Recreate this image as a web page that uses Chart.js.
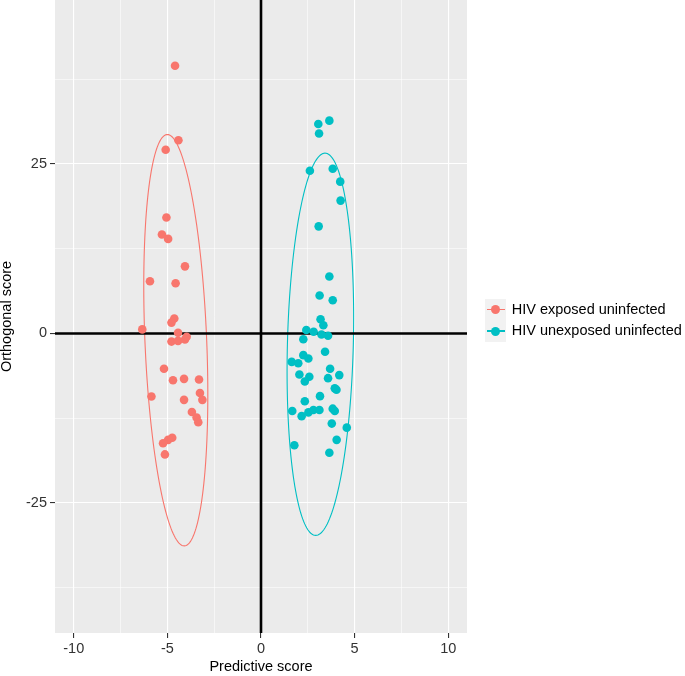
<!DOCTYPE html>
<html>
<head>
<meta charset="utf-8">
<script src="https://cdn.jsdelivr.net/npm/chart.js@4.4.1/dist/chart.umd.min.js"></script>
<style>
  html, body { margin: 0; padding: 0; background: #fff; }
  #wrap { position: relative; width: 685px; height: 676px; font-family: "Liberation Sans", Arial, sans-serif; }
  #chart { position: absolute; left: 0; top: 0; }
  #legend { position: absolute; left: 485px; top: 298.5px; }
  .row { position: relative; height: 21.7px; }
  .key { position: absolute; left: 0; top: 0; width: 21px; height: 21.7px; background: #F2F2F2; }
  .key .ln { position: absolute; left: 2px; top: 10.1px; width: 17.5px; height: 1.5px; }
  .key .dot { position: absolute; left: 6px; top: 6.35px; width: 9px; height: 9px; border-radius: 50%; }
  .lbl { position: absolute; left: 26.7px; top: 0; line-height: 21.7px; font-size: 14.5px; color: #000; white-space: nowrap; }
</style>
</head>
<body>
<div id="wrap">
  <canvas id="chart" width="685" height="676"></canvas>
  <div id="legend"></div>
</div>
<script>
const groupNames = ['HIV exposed uninfected', 'HIV unexposed uninfected'];
const groupColors = ['#F8766D', '#00BFC4'];

const exposedX = [-4.59, -4.41, -5.09, -5.05, -5.29, -4.96, -4.06, -5.93, -4.56, -4.63, -4.78, -6.34, -4.43, -4.78, -4.43, -4.06, -3.97,
  -5.18, -4.70, -4.11, -3.31, -5.85, -3.26, -3.13, -4.11, -3.69, -3.44, -3.35, -4.74, -4.96, -5.23, -5.13];
const exposedY = [39.5, 28.5, 27.1, 17.1, 14.6, 13.95, 9.9, 7.7, 7.4, 2.2, 1.6, 0.6, 0.1, -1.2, -1.1, -0.9, -0.5,
  -5.2, -6.9, -6.7, -6.8, -9.3, -8.8, -9.8, -9.8, -11.6, -12.4, -13.1, -15.4, -15.7, -16.2, -17.85];

const unexposedX = [3.06, 3.65, 3.10, 2.61, 3.83, 4.23, 4.25, 3.08, 3.65, 3.13, 3.83, 3.18, 3.33, 2.42, 2.81, 3.23, 3.58, 2.26,
  3.42, 2.26, 2.53, 1.64, 1.99, 3.69, 2.05, 2.58, 2.34, 3.58, 4.18, 3.94, 4.03, 3.15, 2.34, 1.67, 2.17, 2.53, 2.80, 3.12,
  3.83, 3.94, 3.78, 4.58, 4.04, 1.78, 3.65];
const unexposedY = [30.9, 31.4, 29.5, 24.0, 24.3, 22.4, 19.6, 15.8, 8.4, 5.6, 4.9, 2.1, 1.2, 0.5, 0.25, -0.15, -0.35, -0.85,
  -2.7, -3.2, -3.7, -4.2, -4.4, -5.2, -6.05, -6.4, -7.1, -6.6, -6.15, -8.1, -8.3, -9.25, -10.0, -11.45, -12.2, -11.65, -11.3, -11.3,
  -11.1, -11.45, -13.3, -13.9, -15.7, -16.5, -17.6];

// ellipse per group: centre, semi-axis towards top, semi-axis sideways
const ellipseCenters = [[-4.55, -1.0], [3.17, -1.6]];
const ellipseUpAxes = [[-0.45, 30.35], [0.25, 28.2]];
const ellipseSideAxes = [[1.65, 0], [1.76, 0]];

const xMajorTicks = [-10, -5, 0, 5, 10];
const xMinorTicks = [-7.5, -2.5, 2.5, 7.5];
const yMajorTicks = [-25, 0, 25];
const yMinorTicks = [-37.5, -12.5, 12.5, 37.5];

const FONT = '"Liberation Sans", Arial, sans-serif';

function toPoints(xs, ys) {
  return xs.map((x, i) => ({ x: x, y: ys[i] }));
}

const panelPlugin = {
  id: 'panel',
  beforeDraw(chart) {
    const { ctx, chartArea: a } = chart;
    ctx.save();
    ctx.fillStyle = '#fff';
    ctx.fillRect(0, 0, chart.width, chart.height);
    ctx.fillStyle = '#EBEBEB';
    ctx.fillRect(a.left, a.top, a.right - a.left, a.bottom - a.top);
    ctx.restore();
  },
  beforeDatasetsDraw(chart) {
    const { ctx, chartArea: a, scales } = chart;
    const xs = scales.x, ys = scales.y;
    ctx.save();
    ctx.beginPath();
    ctx.rect(a.left, a.top, a.right - a.left, a.bottom - a.top);
    ctx.clip();
    ellipseCenters.forEach((c, g) => {
      const u = ellipseUpAxes[g], v = ellipseSideAxes[g];
      ctx.beginPath();
      for (let k = 0; k <= 180; k++) {
        const t = k / 180 * Math.PI * 2;
        const px = xs.getPixelForValue(c[0] + u[0] * Math.cos(t) + v[0] * Math.sin(t));
        const py = ys.getPixelForValue(c[1] + u[1] * Math.cos(t) + v[1] * Math.sin(t));
        if (k === 0) ctx.moveTo(px, py); else ctx.lineTo(px, py);
      }
      ctx.strokeStyle = groupColors[g];
      ctx.lineWidth = 1.1;
      ctx.stroke();
    });
    const x0 = xs.getPixelForValue(0), y0 = ys.getPixelForValue(0);
    ctx.strokeStyle = '#000';
    ctx.lineWidth = 2.6;
    ctx.beginPath();
    ctx.moveTo(x0, a.top); ctx.lineTo(x0, a.bottom);
    ctx.moveTo(a.left, y0); ctx.lineTo(a.right, y0);
    ctx.stroke();
    ctx.restore();
  }
};

function axisOptions(majors, minors, min, max, isX) {
  const all = majors.concat(minors).sort((a, b) => a - b);
  return {
    type: 'linear',
    min: min,
    max: max,
    afterBuildTicks: s => { s.ticks = all.map(v => ({ value: v })); },
    afterFit: s => {
      if (isX) s.height = 43; else s.width = 55;
      s.paddingTop = 0; s.paddingBottom = 0; s.paddingLeft = 0; s.paddingRight = 0;
    },
    ticks: {
      autoSkip: false,
      maxRotation: 0,
      padding: isX ? 2.5 : 3,
      color: '#333',
      font: { family: FONT, size: 14.5 },
      callback: v => majors.includes(v) ? String(v) : ''
    },
    grid: {
      color: '#fff',
      lineWidth: c => (c.tick && majors.includes(c.tick.value)) ? 1.1 : 0.55,
      tickColor: c => (c.tick && majors.includes(c.tick.value)) ? '#333' : 'rgba(0,0,0,0)',
      tickWidth: 1.1,
      tickLength: 5
    },
    border: { display: false },
    title: {
      display: true,
      text: isX ? 'Predictive score' : 'Orthogonal score',
      color: '#000',
      font: { family: FONT, size: 14.5, lineHeight: 1 },
      padding: isX ? { top: 0, bottom: 2 } : { top: 0, bottom: 0 }
    }
  };
}

new Chart(document.getElementById('chart'), {
  type: 'scatter',
  data: {
    datasets: [
      { label: groupNames[0], data: toPoints(exposedX, exposedY), backgroundColor: groupColors[0],
        pointRadius: 4.3, pointHoverRadius: 4.3, borderWidth: 0 },
      { label: groupNames[1], data: toPoints(unexposedX, unexposedY), backgroundColor: groupColors[1],
        pointRadius: 4.3, pointHoverRadius: 4.3, borderWidth: 0 }
    ]
  },
  options: {
    responsive: false,
    animation: false,
    layout: { padding: { left: 0, right: 218, top: 0, bottom: 0 }, autoPadding: false },
    plugins: { legend: { display: false }, tooltip: { enabled: false } },
    scales: {
      x: axisOptions(xMajorTicks, xMinorTicks, -11, 11, true),
      y: axisOptions(yMajorTicks, yMinorTicks, -44.2, 49.2, false)
    }
  },
  plugins: [panelPlugin]
});

const legendEl = document.getElementById('legend');
groupNames.forEach((name, i) => {
  const row = document.createElement('div');
  row.className = 'row';
  row.innerHTML = `
    <div class="key"><div class="ln" style="background:${groupColors[i]}"></div><div class="dot" style="background:${groupColors[i]}"></div></div>
    <div class="lbl">${name}</div>`;
  legendEl.appendChild(row);
});
</script>
</body>
</html>
